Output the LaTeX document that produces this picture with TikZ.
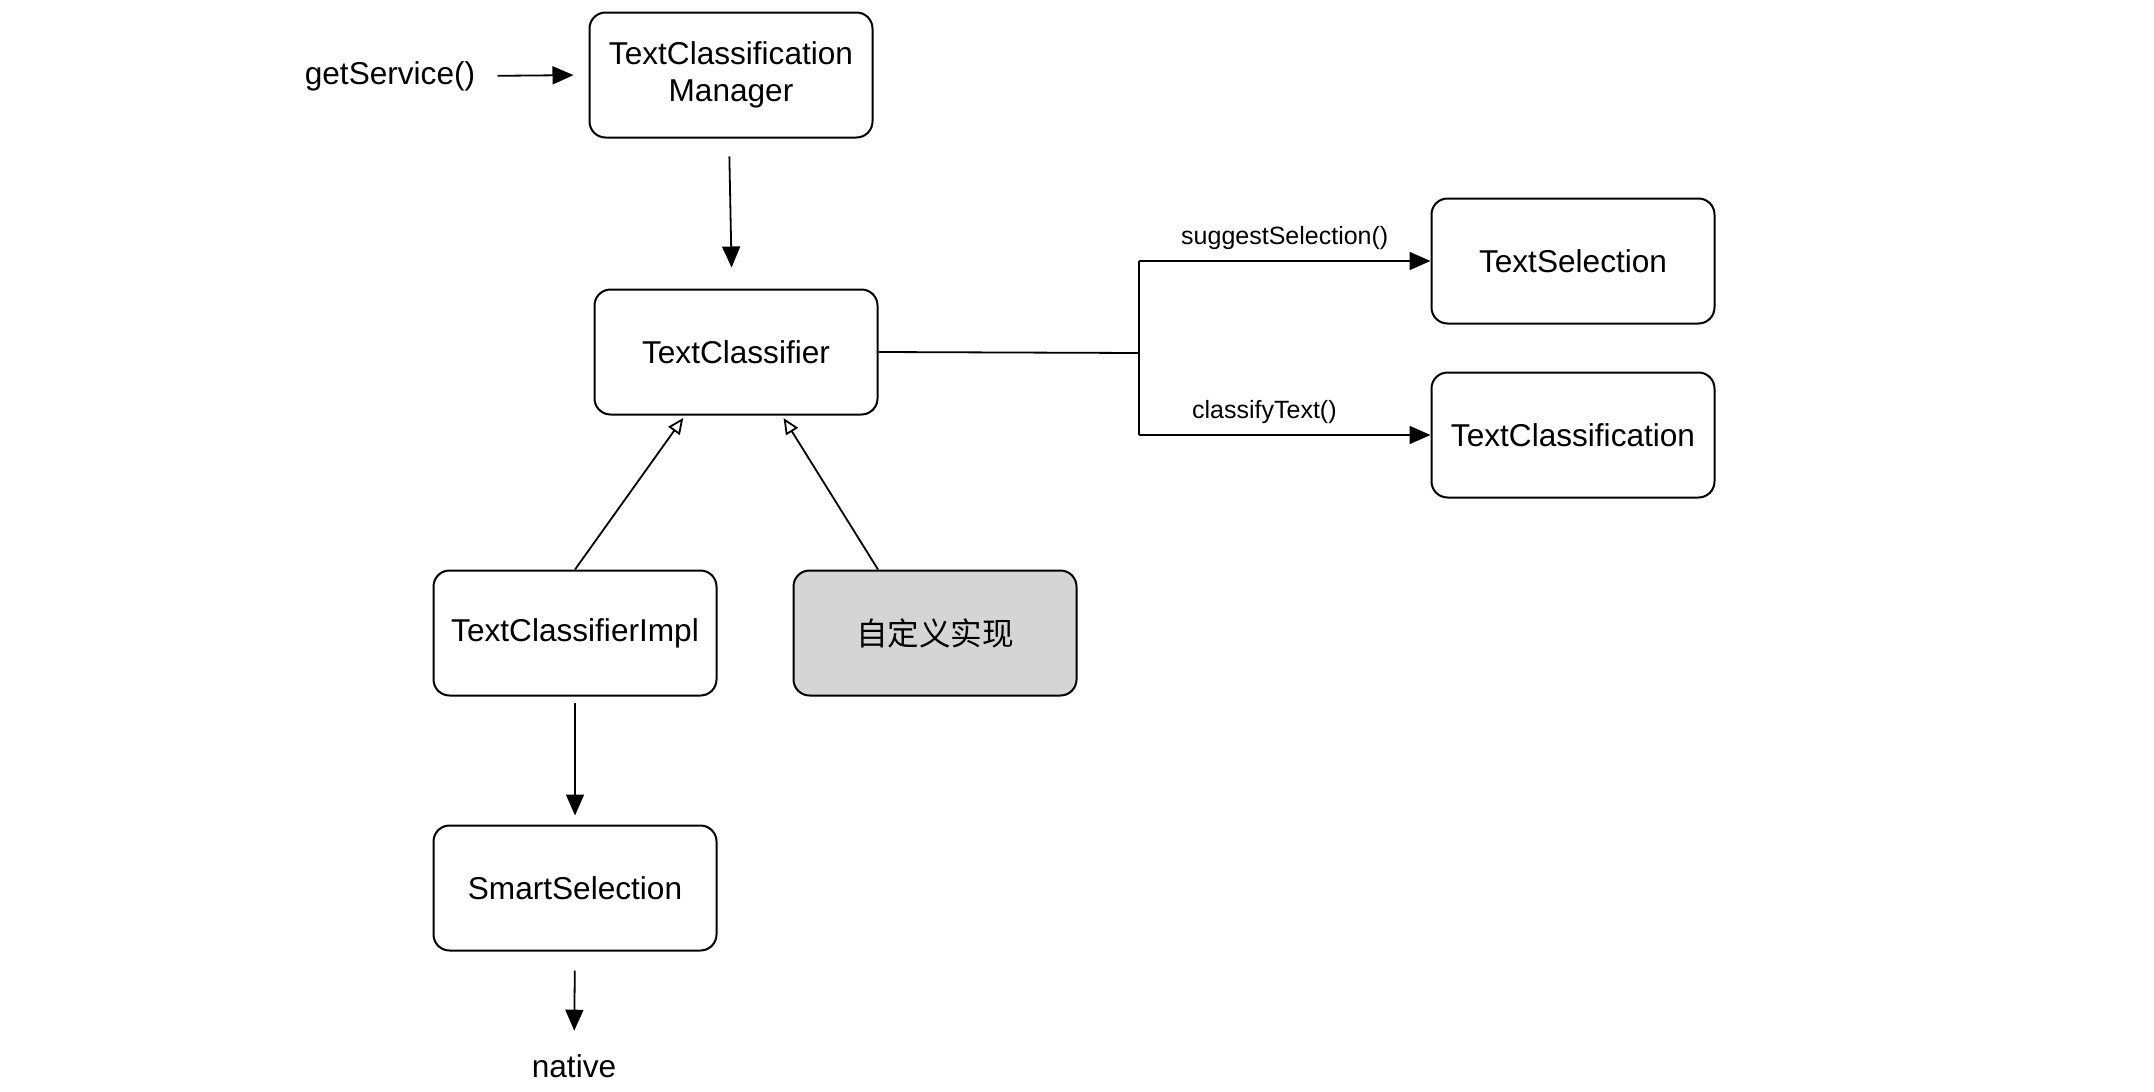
\documentclass[tikz,border=0pt]{standalone}
\usepackage{fontspec}
\setmainfont{Liberation Sans}
\newfontfamily\cjk{Noto Sans CJK SC}
\usetikzlibrary{arrows.meta}
\definecolor{boxgray}{HTML}{D5D5D5}
\begin{document}
\begin{tikzpicture}[x=0.5pt,y=-0.5pt,
  font=\fontsize{15.8}{18.5}\selectfont,
  box/.style={draw, line width=1pt, rounded corners=8pt, minimum width=141.5pt, minimum height=62.5pt, align=center, inner sep=2pt},
  lbl/.style={font=\fontsize{12.5}{15}\selectfont, inner sep=0pt},
  conn/.style={line width=0.9pt},
  arr/.style={conn, -{Triangle[length=10.5pt,width=9pt]}},
  inh/.style={conn, -{Triangle[open,length=8pt,width=7pt]}}]
\useasboundingbox[fill=white] (0,0) rectangle (2154,1092);

\node[box] (tcm) at (731,75) {TextClassification\\Manager};
\node[box] (tc) at (736,352) {TextClassifier};
\node[box] (ts) at (1573,261) {TextSelection};
\node[box] (tcl) at (1573,435) {TextClassification};
\node[box] (impl) at (575,633) {TextClassifierImpl};
\node[box, fill=boxgray] (cust) at (935,633) {\cjk 自定义实现};
\node[box] (ss) at (575,888) {SmartSelection};
\node[inner sep=0pt, anchor=base] (nat) at (574,1077) {native};
\node[inner sep=0pt] (gs) at (390,76) {getService()};

\coordinate (j) at (1139,353);
\coordinate (jt) at (1139,261);
\coordinate (jb) at (1139,435);

\draw[arr, shorten <=11pt, shorten >=7.5pt] (gs.east) -- (tcm.west);
\draw[arr, shorten <=9pt, shorten >=10.5pt] ([xshift=-1pt]tcm.south) -- ([xshift=-2pt]tc.north);
\draw[conn] (tc.east) -- (j);
\draw[conn] (jt) -- (jb);
\draw[arr] (jt) -- node[lbl, above=5pt, pos=0.5] (l1) {suggestSelection()} (ts.west);
\draw[arr] (jb) -- node[lbl, above=5pt, pos=0.43] (l2) {classifyText()} (tcl.west);
\draw[inh, shorten >=1.5pt] (impl.north) -- ([xshift=-25.5pt]tc.south);
\draw[inh, shorten >=1.5pt] ([xshift=-28.5pt]cust.north) -- ([xshift=23pt]tc.south);
\draw[arr, shorten <=3pt, shorten >=4.5pt] (impl.south) -- (ss.north);
\draw[arr, shorten <=9.5pt, shorten >=11.5pt] (ss.south) -- (nat.north);
\end{tikzpicture}
\end{document}
